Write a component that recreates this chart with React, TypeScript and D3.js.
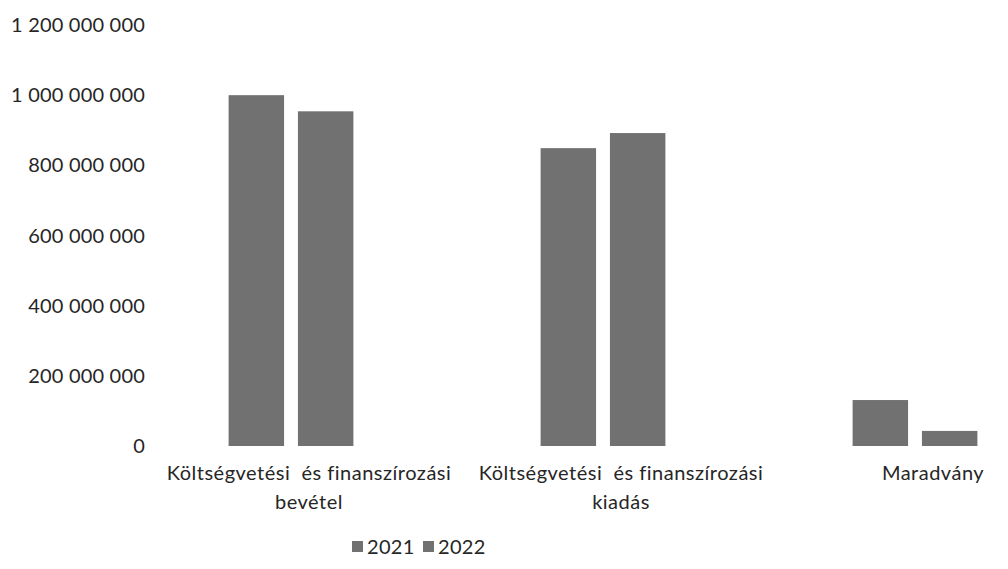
import React, { useEffect, useRef } from "react";
import * as d3 from "d3";

const categories = [
  ["Költségvetési  és finanszírozási", "bevétel"],
  ["Költségvetési  és finanszírozási", "kiadás"],
  ["Maradvány"],
];
const seriesNames = ["2021", "2022"];
const values2021 = [1000000000, 849000000, 131000000];
const values2022 = [954000000, 892000000, 43000000];
const yTicks = [0, 200000000, 400000000, 600000000, 800000000, 1000000000, 1200000000];

const FONT = "Lato, 'Open Sans', sans-serif";
const BAR = "#717171";
const TEXT = "#262626";

const App = () => {
  const ref = useRef<SVGSVGElement>(null);

  useEffect(() => {
    const svg = d3.select(ref.current);
    svg.selectAll("*").remove();

    const locale = d3.formatLocale({
      decimal: ",",
      thousands: " ",
      grouping: [3],
      currency: ["", ""],
    });
    const fmt = locale.format(",d");

    const idx = categories.map((_, i) => String(i));
    const x0 = d3
      .scaleBand()
      .domain(idx)
      .range([135, 1071])
      .paddingInner(0.6)
      .paddingOuter(0.3);
    const x1 = d3
      .scaleBand()
      .domain(seriesNames)
      .range([0, x0.bandwidth()])
      .paddingInner(0.2);
    const y = d3.scaleLinear().domain([0, 1200000000]).range([446, 25]);

    const series = [values2021, values2022];

    // y labels, no axis line or grid in the original
    svg
      .append("g")
      .selectAll("text")
      .data(yTicks)
      .enter()
      .append("text")
      .attr("x", 145)
      .attr("y", (d) => y(d))
      .attr("dy", "0.35em")
      .attr("text-anchor", "end")
      .attr("font-family", FONT)
      .attr("font-size", 20)
      .attr("letter-spacing", 0.2)
      .attr("fill", TEXT)
      .text((d) => fmt(d));

    // bars
    const groups = svg
      .append("g")
      .selectAll("g")
      .data(idx)
      .enter()
      .append("g")
      .attr("transform", (d) => `translate(${x0(d)},0)`);

    groups
      .selectAll("rect")
      .data((d) => series.map((s, j) => ({ key: seriesNames[j], v: s[+d] })))
      .enter()
      .append("rect")
      .attr("x", (d) => x1(d.key)!)
      .attr("y", (d) => y(d.v))
      .attr("width", x1.bandwidth())
      .attr("height", (d) => y(0) - y(d.v))
      .attr("fill", BAR);

    // category labels
    const labels = svg
      .append("g")
      .selectAll("text")
      .data(categories)
      .enter()
      .append("text")
      .attr("x", (_, i) => x0(String(i))! + x0.bandwidth() / 2 + 18)
      .attr("y", 480)
      .attr("text-anchor", "middle")
      .attr("font-family", FONT)
      .attr("font-size", 20)
      .attr("letter-spacing", 0.5)
      .attr("fill", TEXT)
      .style("white-space", "pre");
    labels
      .selectAll("tspan")
      .data((d) => d)
      .enter()
      .append("tspan")
      .attr("x", function () {
        return (this as any).parentNode.getAttribute("x");
      })
      .attr("dy", (_, i) => (i === 0 ? 0 : 29))
      .text((d) => d);

    // legend
    const legend = svg
      .append("g")
      .selectAll("g")
      .data(seriesNames)
      .enter()
      .append("g")
      .attr("transform", (_, i) => `translate(${352 + i * 71},541)`);
    legend.append("rect").attr("width", 11).attr("height", 11).attr("fill", BAR);
    legend
      .append("text")
      .attr("x", 15)
      .attr("y", 6)
      .attr("dy", "0.35em")
      .attr("font-family", FONT)
      .attr("font-size", 20)
      .attr("letter-spacing", 0.3)
      .attr("fill", TEXT)
      .text((d) => d);
  }, []);

  return (
    <svg
      ref={ref}
      width={1008}
      height={569}
      style={{ position: "absolute", left: 0, top: 0, background: "#fff" }}
    />
  );
};

export default App;
